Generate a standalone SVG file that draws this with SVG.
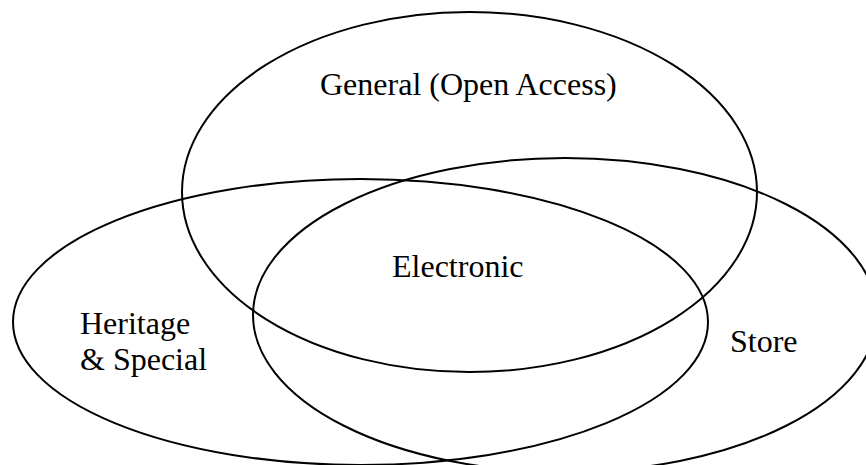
<svg xmlns="http://www.w3.org/2000/svg" width="866" height="465" viewBox="0 0 866 465">
<style>
.set{fill:none;stroke:#000;stroke-width:2}
.lbl{font-family:"Liberation Serif","Times New Roman",serif;font-size:32px;fill:#000}
</style>
<rect width="866" height="465" fill="#fff"/>
<g id="general">
<ellipse class="set" cx="469.5" cy="192" rx="287.5" ry="180"/>
<text class="lbl" x="320" y="95">General (Open Access)</text>
</g>
<g id="heritage">
<ellipse class="set" cx="360.5" cy="322" rx="347.5" ry="143"/>
<text class="lbl" x="80" y="334">Heritage</text>
<text class="lbl" x="80" y="370">&amp; Special</text>
</g>
<g id="store">
<ellipse class="set" cx="565" cy="315" rx="312" ry="157"/>
<text class="lbl" x="730" y="352">Store</text>
</g>
<g id="electronic">
<text class="lbl" x="392" y="277">Electronic</text>
</g>
<g id="connectors"></g>
</svg>
